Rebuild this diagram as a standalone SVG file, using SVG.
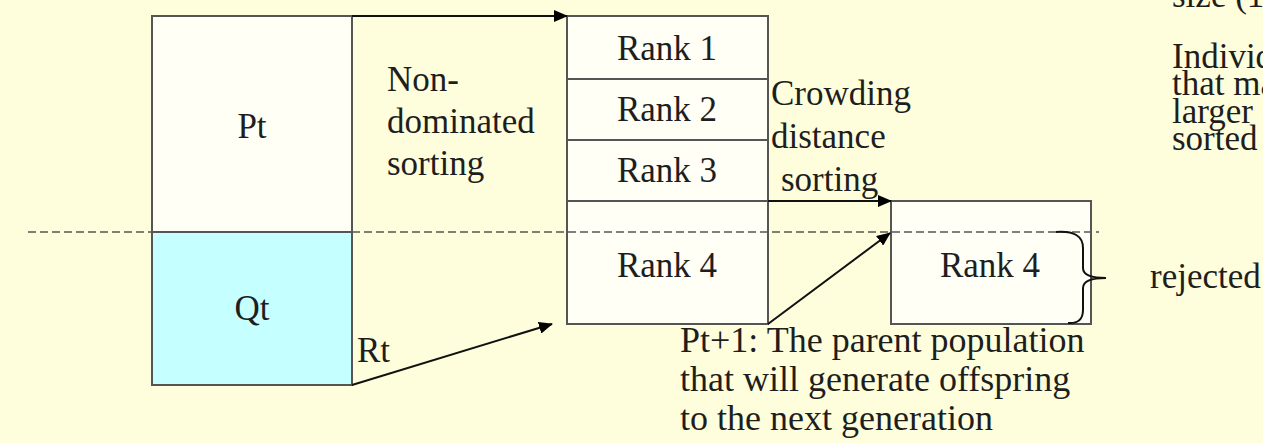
<svg xmlns="http://www.w3.org/2000/svg" width="1263" height="443" viewBox="0 0 1263 443">
<style>
.t{font-family:"Liberation Serif","Times New Roman",serif;font-size:35px;fill:#1e1e1e}
.b{font-size:36px}
.c{text-anchor:middle}
.box{stroke:#555;stroke-width:2}
.ln{stroke:#111;stroke-width:2;fill:none}
</style>
<defs>
<marker id="ah" viewBox="0 0 14 12" refX="13" refY="6" markerWidth="14" markerHeight="12" markerUnits="userSpaceOnUse" orient="auto">
<path d="M0,0 L14,6 L0,12 Z" fill="#000"/>
</marker>
</defs>
<rect x="0" y="0" width="1263" height="443" fill="#FEFEDC"/>
<g id="pt">
<rect class="box" x="152" y="16" width="200" height="216" fill="#FFFFF6"/>
<text class="t c" x="252" y="138">Pt</text>
</g>
<g id="qt">
<rect class="box" x="152" y="232" width="200" height="153" fill="#C6FFFF"/>
<text class="t c" x="252" y="320">Qt</text>
</g>
<g id="ranks">
<rect class="box" x="567" y="16" width="201" height="63" fill="#FFFFF6"/>
<text class="t c" x="667" y="60">Rank 1</text>
<rect class="box" x="567" y="79" width="201" height="61" fill="#FFFFF6"/>
<text class="t c" x="667" y="121">Rank 2</text>
<rect class="box" x="567" y="140" width="201" height="61" fill="#FFFFF6"/>
<text class="t c" x="667" y="182">Rank 3</text>
<rect class="box" x="567" y="201" width="201" height="123" fill="#FFFFF6"/>
<text class="t c" x="667" y="277">Rank 4</text>
</g>
<g id="next">
<rect class="box" x="891" y="201" width="200" height="123" fill="#FFFFF6"/>
<text class="t c" x="990" y="277">Rank 4</text>
</g>
<line id="divider" x1="28" y1="232" x2="1099" y2="232" stroke="#555" stroke-width="1.6" stroke-dasharray="8,4"/>
<g id="connectors">
<line class="ln" x1="352" y1="16" x2="567" y2="16" marker-end="url(#ah)"/>
<line class="ln" x1="352" y1="385" x2="552" y2="324" marker-end="url(#ah)"/>
<line class="ln" x1="768" y1="201" x2="891" y2="201" marker-end="url(#ah)"/>
<line class="ln" x1="768" y1="324" x2="890" y2="233" marker-end="url(#ah)"/>
<path class="ln" d="M1056,232 Q1083,230 1083,248 L1083,268 Q1083,278 1106,278 Q1083,278 1083,288 L1083,310 Q1083,324 1068,323"/>
</g>
<g id="labels">
<text class="t" x="387" y="91">Non-</text>
<text class="t" x="387" y="133">dominated</text>
<text class="t" x="387" y="175">sorting</text>
<text class="t" x="771" y="105">Crowding</text>
<text class="t" x="771" y="148">distance</text>
<text class="t" x="781" y="191">sorting</text>
<text class="t" x="357" y="362">Rt</text>
<text class="t b" x="680" y="352">Pt+1: The parent population</text>
<text class="t b" x="680" y="391">that will generate offspring</text>
<text class="t b" x="680" y="430">to the next generation</text>
<text class="t" x="1150" y="288">rejected</text>
<text class="t" x="1172" y="7">size (1</text>
<text class="t" x="1172" y="68">Individ</text>
<text class="t" x="1172" y="95">that ma</text>
<text class="t" x="1172" y="123">larger</text>
<text class="t" x="1172" y="150">sorted</text>
</g>
</svg>
